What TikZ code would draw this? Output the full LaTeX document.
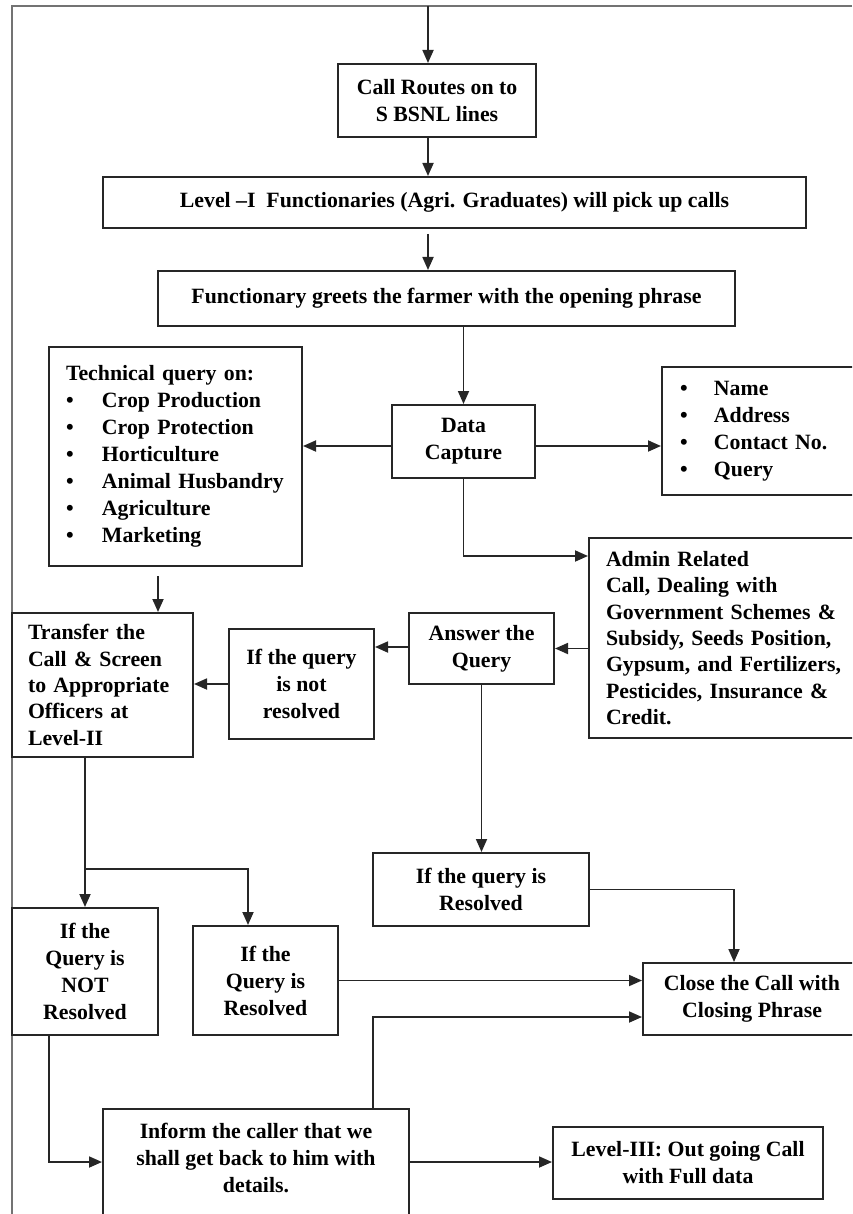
\documentclass[tikz,border=0pt]{standalone}
\usepackage{fontspec}
\setmainfont{Liberation Serif}
\usetikzlibrary{arrows.meta,calc}
\begin{document}
\begin{tikzpicture}[x=1pt,y=-1pt,
  box/.style={draw=black!85,line width=2pt,inner sep=0pt,align=center,font=\bfseries\fontsize{21.8}{27}\selectfont},
  lbox/.style={box,align=left},
  txt/.style={inner sep=0pt,align=center,font=\bfseries\fontsize{21.8}{27}\selectfont},
  arr/.style={draw=black!85,line width=1.8pt,-{Triangle[length=13pt,width=11pt]}},
  ln/.style={draw=black!85,line width=1.8pt}]
\useasboundingbox (0,0) rectangle (852,1214);
\clip (0,0) rectangle (852,1214);
% frame
\draw[draw=black!55,line width=2pt] (852,6) -- (12,6) -- (12,1220);
% helper coordinates
\coordinate (start) at (428,6);
\coordinate (c158) at (158,0);
\coordinate (c734) at (734,0);
\coordinate (c248) at (248,0);
\coordinate (c373) at (373,0);
\coordinate (c49) at (49,0);
\coordinate (br) at (85,869);
\coordinate (r1162) at (0,1162);
\coordinate (r446) at (0,446);
% nodes
\node[box,minimum width=198,minimum height=73] (call) at (437,100.5) {Call Routes on to\\S BSNL lines};
\node[box,minimum width=703,minimum height=51] (level1) at (454.5,202.5) {Level –I\ \ Functionaries (Agri. Graduates) will pick up calls};
\node[box,minimum width=577,minimum height=55] (func) at (446.5,298.5) {Functionary greets the farmer with the opening phrase};
\node[lbox,minimum width=253,minimum height=219,text width=219pt,inner xsep=17pt] (tech) at (175.5,456.5)
  {Technical query on:\\\makebox[36pt][l]{•}Crop Production\\\makebox[36pt][l]{•}Crop Protection\\\makebox[36pt][l]{•}Horticulture\\\makebox[36pt][l]{•}Animal Husbandry\\\makebox[36pt][l]{•}Agriculture\\\makebox[36pt][l]{•}Marketing};
\node[box,minimum width=143,minimum height=73] (data) at (463.5,441.5) {Data\\Capture};
\node[lbox,minimum width=208,minimum height=128,text width=172pt,inner xsep=18pt] (list) at (766,431)
  {\makebox[34pt][l]{•}Name\\\makebox[34pt][l]{•}Address\\\makebox[34pt][l]{•}Contact No.\\\makebox[34pt][l]{•}Query};
\node[lbox,minimum width=281,minimum height=200,text width=247pt,inner xsep=17pt,font=\bfseries\fontsize{21.8}{26.3}\selectfont] (admin) at (729.5,638)
  {Admin Related\\Call, Dealing with\\Government Schemes \&\\Subsidy, Seeds Position,\\Gypsum, and Fertilizers,\\Pesticides, Insurance \&\\Credit.};
\node[box,minimum width=145,minimum height=71] (answer) at (481.5,648.5) {Answer the\\Query};
\node[box,minimum width=145,minimum height=110] (notres) at (301.5,684) {If the query\\is not\\resolved};
\node[lbox,minimum width=181,minimum height=144,text width=149pt,inner xsep=16pt,font=\bfseries\fontsize{21.8}{26.3}\selectfont] (transfer) at (102.5,685)
  {Transfer the\\Call \& Screen\\to Appropriate\\Officers at\\Level-II};
\node[box,minimum width=216,minimum height=73] (res1) at (481,889.5) {If the query is\\Resolved};
\node[box,minimum width=146,minimum height=127] (not2) at (85,971.5) {If the\\Query is\\NOT\\Resolved};
\node[box,minimum width=145,minimum height=109] (res2) at (265.5,980.5) {If the\\Query is\\Resolved};
\node[box,minimum width=218,minimum height=72] (close) at (752,999) {Close the Call with\\Closing Phrase};
\node[box,minimum width=306,minimum height=130,anchor=north] (inform) at (256,1108) {};
\node[txt] (informT) at (256,1158) {Inform the caller that we\\shall get back to him with\\details.};
\node[box,minimum width=270,minimum height=72] (lev3) at (688,1163) {Level-III: Out going Call\\with Full data};
% connectors
\draw[arr] (start) -- (call.north -| start);
\draw[arr] (call.south -| start) -- (level1.north -| start);
\draw[arr,shorten <=5pt] (level1.south -| start) -- (func.north -| start);
\draw[arr] (func.south -| data.north) -- (data.north);
\draw[arr] (data.west |- r446) -- (tech.east |- r446);
\draw[arr] (data.east |- r446) -- (list.west |- r446);
\draw[arr] (data.south) |- ($(admin.north west)+(0,19)$);
\draw[arr] (admin.west |- answer.east) -- (answer.east);
\draw[arr] ($(answer.west)+(0,-1.5)$) -- ($(answer.west -| notres.east)+(0,-1.5)$);
\draw[arr] (notres.west) -- (notres.west -| transfer.east);
\draw[arr,shorten <=9pt] (tech.south -| c158) -- (transfer.north -| c158);
\draw[arr] (answer.south) -- (answer.south |- res1.north);
\draw[arr] (res1.east) -| (close.north -| c734);
\draw[arr] (transfer.south -| not2.north) -- (not2.north);
\draw[arr] (br) -| (res2.north -| c248);
\draw[arr] (res2.east) -- (res2.east -| close.west);
\draw[arr] (inform.north -| c373) |- ($(close.south west)+(0,-19)$);
\draw[arr] (not2.south -| c49) |- (inform.west |- r1162);
\draw[arr] (inform.east |- r1162) -- (lev3.west |- r1162);
\end{tikzpicture}
\end{document}
